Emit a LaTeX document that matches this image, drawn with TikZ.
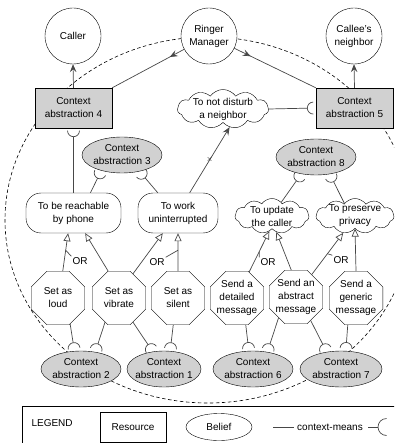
\documentclass[tikz,border=0pt]{standalone}
\usepackage{fontspec}
\setmainfont{Liberation Sans}
\usetikzlibrary{arrows.meta,calc,shapes.geometric,shapes.symbols,decorations.markings}

% context-means link: line from the means to a socket in front of the context
\newcommand{\ctxmeans}[2]{%
  \draw[means] (#1) -- ($(#2)!8.5pt!(#1)$);
  \draw[means] let \p1=($(#2)!2.5pt!(#1)$), \p2=($(#1)-(\p1)$), \n1={atan2(\y2,\x2)} in
    ($(\p1)+({\n1+90}:6pt)$) arc[start angle=\n1+90, end angle=\n1-90, radius=6pt];
}

\begin{document}
\begin{tikzpicture}[x=1pt,y=-1pt]
  \tikzset{every node/.style={font=\fontsize{10}{13}\selectfont, align=center}}
  \tikzset{actor/.style={circle, draw, fill=white, minimum size=56pt, inner sep=0pt}}
  \tikzset{resource/.style={rectangle, draw, fill=black!18, minimum width=77pt, minimum height=40pt}}
  \tikzset{belief/.style={ellipse, draw, fill=black!18, minimum width=80pt, minimum height=36pt,
      inner xsep=-3pt, inner ysep=0pt}}
  \tikzset{goal/.style={rectangle, rounded corners=15pt, draw, fill=white, minimum height=40pt}}
  \tikzset{softgoal/.style={cloud, cloud puffs=11, cloud puff arc=110, cloud ignores aspect,
      draw, fill=white}}
  \tikzset{task/.style={regular polygon, regular polygon sides=8, draw, fill=white,
      minimum size=58pt, inner sep=-4pt}}
  \tikzset{means/.style={draw=black!72, line width=0.7pt}}
  \tikzset{decomp/.style={means, -{Triangle[open, length=8pt, width=7pt]}}}
  \tikzset{dep/.style={means, -{Stealth[length=8pt, width=6.5pt, inset=3pt]}}}
  \tikzset{midarrow/.style={postaction={decorate}, decoration={markings,
      mark=at position #1 with {\arrow{Stealth[length=8pt, width=6.5pt, inset=3pt]}}}}}
  \tikzset{ortext/.style={inner sep=1pt}}

  \useasboundingbox (0,0) rectangle (394,443);

  % boundary of the system
  \begin{scope}
    \clip (0,0) rectangle (394,443);
    \draw[dash pattern=on 3.5pt off 2.5pt, line width=0.6pt] (208,220) ellipse [x radius=203pt, y radius=183pt];
    \draw[line width=0.8pt] (400,406) -- (22,406) -- (22,450);
  \end{scope}

  \node[actor] (caller) at (73,36) {Caller};
  \node[actor] (ringer) at (209,36) {Ringer\\Manager};
  \node[actor] (neighbor) at (354,36) {Callee's\\neighbor};

  \node[resource] (ctxfour) at (73.5,108) {Context\\abstraction 4};
  \node[resource] (ctxfive) at (354.5,108) {Context\\abstraction 5};
  \node[softgoal, minimum width=91pt, minimum height=39pt,
        label={[align=center]center:To not disturb\\a neighbor}] (ndist) at (223,109) {};

  \node[belief] (ctxthree) at (122,155) {Context\\abstraction 3};
  \node[belief] (ctxeight) at (316,157) {Context\\abstraction 8};

  \node[goal, minimum width=95pt] (reach) at (73.5,213) {To be reachable\\by phone};
  \node[goal, minimum width=80pt] (work) at (178,213) {To work\\uninterrupted};
  \node[softgoal, minimum width=74pt, minimum height=35pt,
        label={[align=center]center:To update\\the caller}] (update) at (272,216) {};
  \node[softgoal, minimum width=78pt, minimum height=35pt,
        label={[align=center]center:To preserve\\privacy}] (privacy) at (355,216) {};

  \node[task] (loud) at (58,298) {Set as\\loud};
  \node[task] (vibrate) at (119,298) {Set as\\vibrate};
  \node[task] (silent) at (178,298) {Set as\\silent};
  \node[task] (detailed) at (237,298) {Send a\\detailed\\message};
  \node[task] (abstract) at (296,297) {Send an\\abstract\\message};
  \node[task] (generic) at (356,298) {Send a\\generic\\message};

  \node[belief] (ctxtwo) at (81,369) {Context\\abstraction 2};
  \node[belief, minimum width=74pt] (ctxone) at (164,369) {Context\\abstraction 1};
  \node[belief] (ctxsix) at (253,369) {Context\\abstraction 6};
  \node[belief, minimum width=82pt] (ctxseven) at (341,369) {Context\\abstraction 7};

  % dependencies
  \draw[dep] (ctxfour.north) -- (caller.south);
  \draw[dep] (ctxfive.north) -- (neighbor.south);
  \draw[means, midarrow=0.2] (ringer) -- (ctxfour.north east);
  \draw[means, midarrow=0.2] (ringer) -- (ctxfive.north west);
  \draw[dep] (work.60) -- node[font=\footnotesize, inner sep=0pt] (hurt) {$\times$} (ndist.-70);

  % decompositions
  \draw[decomp] (loud.80) -- (reach.-105);
  \draw[decomp] (vibrate.112) -- (reach.-60);
  \draw[decomp] (vibrate.60) -- (work.-127);
  \draw[decomp] (silent.north) -- (work.south);
  \draw[decomp] (detailed.65) -- (update.-100);
  \draw[decomp] (abstract.100) -- (update.-75);
  \draw[decomp] (abstract.55) -- (privacy.-125);
  \draw[decomp] (generic.north) -- (privacy.south);

  \node[ortext] (orreach) at (80,261) {OR};
  \node[ortext] (orwork) at (157,262) {OR};
  \node[ortext] (orupdate) at (268,262) {OR};
  \node[ortext] (orprivacy) at (341,260) {OR};
  \draw[means] ($(loud.80)!0.55!(reach.-105)$) -- (orreach.north west);
  \draw[means] ($(silent.north)!0.55!(work.south)$) -- (orwork.north east);
  \draw[means] ($(detailed.65)!0.5!(update.-100)$) -- (orupdate.north west);
  \draw[means] ($(abstract.55)!0.5!(privacy.-125)$) -- (orprivacy.north west);

  % context-means
  \ctxmeans{reach.north}{ctxfour.south}
  \ctxmeans{ndist.east}{ctxfive.west}
  \ctxmeans{reach.50}{ctxthree.-143}
  \ctxmeans{work.135}{ctxthree.-43}
  \ctxmeans{update.56}{ctxeight.-131}
  \ctxmeans{privacy.130}{ctxeight.-51}
  \ctxmeans{loud.-65}{ctxtwo.110}
  \ctxmeans{vibrate.-120}{ctxtwo.50}
  \ctxmeans{vibrate.-60}{ctxone.123}
  \ctxmeans{silent.-100}{ctxone.71}
  \ctxmeans{detailed.-72}{ctxsix.103}
  \ctxmeans{abstract.-130}{ctxsix.50}
  \ctxmeans{abstract.-58}{ctxseven.130}
  \ctxmeans{generic.-107}{ctxseven.75}

  % legend
  \node[anchor=west] (lgtitle) at (28,423) {LEGEND};
  \node[draw, line width=0.8pt, minimum width=66pt, minimum height=30pt] (lgres) at (133,427) {Resource};
  \node[ellipse, draw, minimum width=66pt, minimum height=27pt, inner sep=0pt] (lgbel) at (219,427) {Belief};
  \node (lgtext) at (330,427) {context-means};
  \coordinate (lgdash) at (273,427);
  \draw[means] (lgdash) -- (lgtext.west);
  \coordinate (lgsock) at (368,427);
  \draw[means] (lgsock) -- ++(10pt,0pt);
  \draw[means] ($(lgsock)+(18.5pt,8.5pt)$) arc[start angle=90, end angle=270, radius=8.5pt];
\end{tikzpicture}
\end{document}
